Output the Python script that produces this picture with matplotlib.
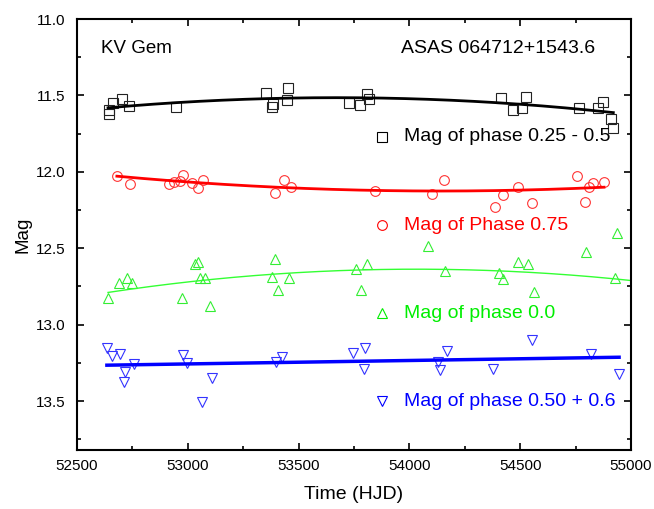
import numpy as np
import matplotlib.pyplot as plt
from matplotlib.ticker import MultipleLocator

# phase 0.25 - 0.5 (squares)
t_a = [52644, 52644, 52662, 52702, 52734, 52945, 53354, 53386, 53381, 53453, 53449,
       53727, 53777, 53808, 53817, 54415, 54469, 54510, 54528, 54766, 54851, 54874,
       54910, 54919]
m_a = [11.594, 11.620, 11.548, 11.522, 11.568, 11.574, 11.483, 11.555, 11.574, 11.450,
       11.529, 11.548, 11.561, 11.490, 11.522, 11.516, 11.594, 11.581, 11.509, 11.581,
       11.581, 11.542, 11.653, 11.711]

# phase 0.75 (circles)
t_b = [52680, 52738, 52914, 52936, 52963, 52977, 53017, 53044, 53067, 53395, 53435,
       53467, 53844, 54101, 54155, 54384, 54420, 54492, 54555, 54757, 54793, 54811,
       54829, 54878]
m_b = [12.025, 12.077, 12.077, 12.064, 12.057, 12.018, 12.071, 12.103, 12.051, 12.136,
       12.051, 12.097, 12.123, 12.142, 12.051, 12.227, 12.149, 12.097, 12.201, 12.025,
       12.195, 12.097, 12.071, 12.064]

# phase 0.0 (up triangles)
t_c = [52639, 52689, 52725, 52747, 52972, 53031, 53044, 53053, 53076, 53098, 53381,
       53395, 53408, 53458, 53759, 53781, 53808, 54083, 54159, 54406, 54424, 54492,
       54537, 54564, 54797, 54928, 54937]
m_c = [12.828, 12.730, 12.697, 12.730, 12.828, 12.606, 12.593, 12.697, 12.697, 12.880,
       12.691, 12.567, 12.775, 12.697, 12.638, 12.775, 12.606, 12.488, 12.651, 12.664,
       12.704, 12.593, 12.606, 12.789, 12.527, 12.697, 12.397]

# phase 0.50 + 0.6 (down triangles)
t_d = [52635, 52657, 52693, 52756, 52716, 52711, 52977, 52995, 53111, 53062, 53399,
       53426, 53745, 53799, 53795, 54128, 54137, 54168, 54375, 54555, 54820, 54946]
m_d = [13.154, 13.206, 13.193, 13.258, 13.311, 13.376, 13.200, 13.252, 13.350, 13.507,
       13.245, 13.213, 13.187, 13.154, 13.291, 13.245, 13.298, 13.174, 13.291, 13.102,
       13.193, 13.324]

fit_t_a = [52640, 53450, 53817, 54415, 54920]
fit_m_a = [11.580, 11.520, 11.516, 11.546, 11.614]
fit_t_b = [52680, 53067, 53395, 53844, 54101, 54420, 54878]
fit_m_b = [12.030, 12.070, 12.100, 12.120, 12.130, 12.120, 12.100]
fit_t_c = [52640, 53458, 53808, 54159, 54406, 54928, 55000]
fit_m_c = [12.790, 12.660, 12.640, 12.640, 12.650, 12.700, 12.710]
fit_t_d = [52635, 54946]
fit_m_d = [13.265, 13.213]

labels = ['Mag of phase 0.25 - 0.5', 'Mag of Phase 0.75',
          'Mag of phase 0.0', 'Mag of phase 0.50 + 0.6']

plt.rcParams['font.family'] = ['Liberation Sans', 'DejaVu Sans']

fig = plt.figure(figsize=(6.54, 5.09), dpi=100)
ax = fig.add_axes([0.1177, 0.1159, 0.8472, 0.8467])


def smooth(t, m, deg):
    t = np.asarray(t, float)
    c = np.polyfit(t - 53800, m, deg)
    tt = np.linspace(t.min(), t.max(), 200)
    return tt, np.polyval(c, tt - 53800)


series = [
    (t_a, m_a, fit_t_a, fit_m_a, 's', '#222222', '#000000', 2.0, 2),
    (t_b, m_b, fit_t_b, fit_m_b, 'o', '#ff3333', '#ff0000', 2.0, 2),
    (t_c, m_c, fit_t_c, fit_m_c, '^', '#33ee33', '#33ff33', 1.0, 2),
    (t_d, m_d, fit_t_d, fit_m_d, 'v', '#3333ff', '#0000ff', 2.5, 1),
]
for t, m, ft, fm, mk, mc, lc, lw, deg in series:
    ax.plot(t, m, linestyle='none', marker=mk, markersize=7, markerfacecolor='none',
            markeredgecolor=mc, markeredgewidth=0.8)
    tt, mm = smooth(ft, fm, deg)
    ax.plot(tt, mm, color=lc, linewidth=lw)

# in-plot legend entries
leg_y = [11.77, 12.35, 12.925, 13.50]
leg_col = ['#000000', '#ff0000', '#00ee00', '#0000ff']
leg_mk = ['s', 'o', '^', 'v']
for y, lab, c, mk in zip(leg_y, labels, leg_col, leg_mk):
    ax.plot([53876], [y], linestyle='none', marker=mk, markersize=7, markerfacecolor='none',
            markeredgecolor=c, markeredgewidth=0.8)
    ax.text(53975, y, lab, color=c, fontsize=14, va='center', ha='left')

ax.text(52610, 11.19, 'KV Gem', fontsize=13.5, va='center', ha='left')
ax.text(54838, 11.19, 'ASAS 064712+1543.6', fontsize=14, va='center', ha='right')

ax.set_xlim(52500, 55000)
ax.set_ylim(13.82, 11.0)
ax.xaxis.set_major_locator(MultipleLocator(500))
ax.xaxis.set_minor_locator(MultipleLocator(250))
ax.yaxis.set_major_locator(MultipleLocator(0.5))
ax.yaxis.set_minor_locator(MultipleLocator(0.25))
ax.yaxis.set_major_formatter(plt.FormatStrFormatter('%.1f'))
ax.tick_params(which='both', direction='in', top=True, right=True, labelsize=11)
ax.tick_params(axis='y', which='both', pad=8.5)
ax.tick_params(axis='x', which='both', pad=6.5)
ax.tick_params(which='major', length=5, width=1.2)
ax.tick_params(which='minor', length=3, width=1.2)
for s in ax.spines.values():
    s.set_linewidth(1.5)

ax.set_xlabel('Time (HJD)', fontsize=14, labelpad=9)
ax.set_ylabel('Mag', fontsize=13.5, labelpad=3)

fig.savefig('out.png', dpi=100)
